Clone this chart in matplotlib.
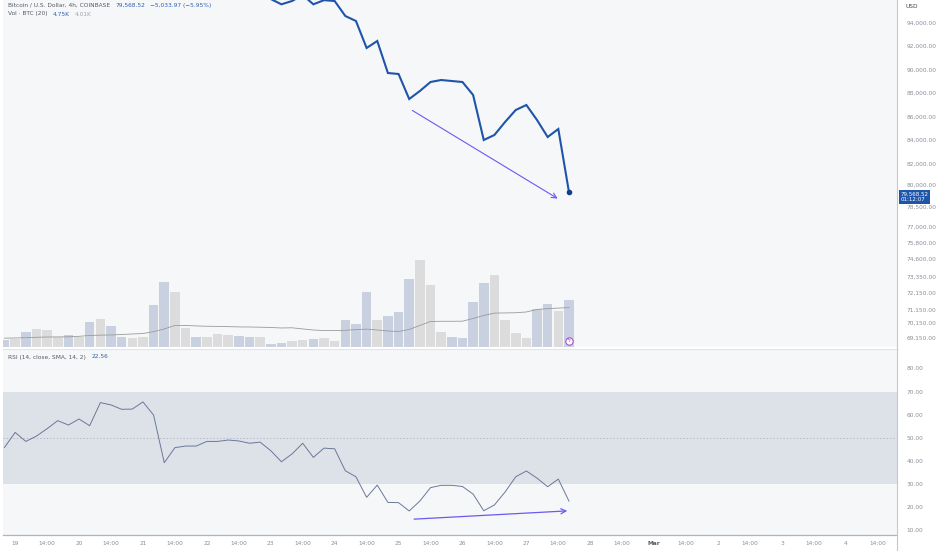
import matplotlib.pyplot as plt
from matplotlib.lines import Line2D
from matplotlib.transforms import blended_transform_factory

plt.rcParams['font.family'] = ['DejaVu Sans']

# 4h candles, bar 0 = 18 Feb 20:00 ... bar 53 = last (27 Feb 16:00)
price_first_bar = 24
close = [96700, 96000, 95549, 95830, 96340, 95549, 95900, 95830, 94553, 94128,
         91830, 92426, 89702, 89617, 87489, 88170, 88936, 89106, 89020, 88936,
         87830, 84000, 84426, 85532, 86553, 86979, 85702, 84255, 84936, 79568.52]

volume_k = [0.62, 0.80, 1.45, 1.83, 1.65, 1.03, 1.14, 0.96, 2.51, 2.82,
            2.07, 0.96, 0.90, 1.03, 4.24, 6.61, 5.58, 1.89, 0.96, 1.03,
            1.24, 1.14, 1.06, 1.03, 1.03, 0.21, 0.41, 0.55, 0.62, 0.75,
            0.86, 0.55, 2.76, 2.27, 5.61, 2.69, 3.13, 3.54, 6.92, 8.96,
            6.37, 1.45, 0.96, 0.83, 4.55, 6.58, 7.41, 2.69, 1.37, 0.90,
            3.89, 4.41, 3.65, 4.75]
down_bar = [1, 0, 1, 0, 0, 0, 1, 0, 1, 0, 1, 1, 0, 0, 1, 1, 0, 0, 1, 0,
            0, 0, 1, 1, 0, 1, 1, 0, 0, 1, 0, 0, 1, 1, 1, 0, 1, 1, 1, 0,
            0, 0, 1, 1, 1, 1, 0, 0, 0, 0, 1, 1, 0, 1]
volume_ma_k = [0.86, 0.88, 0.91, 0.95, 0.98, 0.99, 1.00, 1.05, 1.14, 1.17,
               1.19, 1.24, 1.29, 1.34, 1.53, 1.81, 2.17, 2.17, 2.12, 2.09,
               2.07, 2.05, 2.02, 2.01, 1.99, 1.96, 1.91, 1.93, 1.81, 1.70,
               1.65, 1.65, 1.67, 1.74, 1.79, 1.70, 1.60, 1.55, 1.76, 2.17,
               2.58, 2.60, 2.60, 2.61, 2.89, 3.20, 3.44, 3.46, 3.48, 3.56,
               3.82, 3.90, 3.96, 4.01]

rsi = [45.8, 52.3, 48.4, 50.7, 53.9, 57.4, 55.5, 58.1, 55.2, 65.2,
       64.2, 62.3, 62.4, 65.5, 59.8, 39.2, 45.7, 46.4, 46.4, 48.4,
       48.4, 49.0, 48.6, 47.6, 48.1, 44.4, 39.6, 43.0, 47.6, 41.5,
       45.5, 45.2, 35.7, 33.1, 24.2, 29.5, 22.0, 21.9, 18.3, 22.6,
       28.4, 29.4, 29.4, 28.9, 25.6, 18.4, 20.9, 26.5, 33.1, 35.6,
       32.5, 28.8, 32.1, 22.56]

# drawn trend arrows (bar index, value)
price_arrow_start = (38.07, 86638)
price_arrow_end = (52.16, 78894)
rsi_arrow_start = (38.2, 14.7)
rsi_arrow_end = (53.1, 18.4)

day_labels = ['19', '20', '21', '22', '23', '24', '25', '26', '27', '28', 'Mar', '2', '3', '4']
price_labels = ['94,000.00', '92,000.00', '90,000.00', '88,000.00', '86,000.00', '84,000.00',
                '82,000.00', '80,000.00', '78,500.00', '77,000.00', '75,800.00', '74,600.00',
                '73,350.00', '72,150.00', '71,150.00', '70,150.00', '69,150.00']
price_label_pos = [94000, 92000, 90000, 88000, 86000, 84000, 82000, 80150,
                   78298, 76596, 75234, 73872, 72340, 70979, 69532, 68426, 67149]
rsi_ticks = [80, 70, 60, 50, 40, 30, 20, 10]

BG = '#f6f7f9'
TXT = '#8a8f99'
BLUE = '#1f55a8'
ARROW = '#6a5af0'
FS = 4.2

fig = plt.figure(figsize=(9.38, 5.51), dpi=100, facecolor='white')
W = 897 / 938
top_rect = [3 / 938, 1 - 347 / 551, W - 3 / 938, 347 / 551]
ax_vol = fig.add_axes(top_rect)
ax_price = fig.add_axes(top_rect, sharex=ax_vol)
ax_rsi = fig.add_axes([3 / 938, 1 - 535 / 551, W - 3 / 938, 186 / 551], sharex=ax_vol)

bars = list(range(len(volume_k)))
ax_vol.set_facecolor(BG)
ax_vol.bar(bars, volume_k, width=0.9,
           color=['#c9d1e1' if d else '#dcdcdc' for d in down_bar])
ax_vol.plot(bars, volume_ma_k, color='#9a9a9a', lw=0.6)
ax_vol.scatter([bars[-1]], [0.6], s=28, facecolor='white', edgecolor='#b04fd0', lw=0.8, zorder=5)
ax_vol.text(bars[-1], 0.6, 'ϟ', color='#7c4fe0', fontsize=4.5, ha='center', va='center', zorder=6)
ax_vol.set_ylim(-0.05, 35.7)
ax_vol.set_xlim(-0.14, 83.8)
ax_vol.set_yticks([])
ax_vol.tick_params(axis='x', length=0, labelbottom=False)
for s in ax_vol.spines.values():
    s.set_visible(False)

price_x = list(range(price_first_bar, price_first_bar + len(close)))
ax_price.patch.set_visible(False)
ax_price.plot(price_x, close, color=BLUE, lw=1.5, solid_joinstyle='miter')
ax_price.plot([price_x[-1]], [close[-1]], 'o', color='#123f8a', ms=3)
ax_price.annotate('', xy=price_arrow_end, xytext=price_arrow_start,
                  arrowprops=dict(arrowstyle='->', color=ARROW, lw=0.8, mutation_scale=9))
ax_price.set_ylim(66383, 95915)
ax_price.yaxis.tick_right()
ax_price.set_yticks(price_label_pos)
ax_price.set_yticklabels(price_labels)
ax_price.tick_params(axis='y', length=0, pad=7, labelsize=FS, labelcolor=TXT)
ax_price.tick_params(axis='x', length=0, labelbottom=False)
for s in ax_price.spines.values():
    s.set_visible(False)

tr = blended_transform_factory(ax_price.transAxes, ax_price.transData)
ax_price.annotate('79,568.52\n01:12:07', xy=(1.0, close[-1]), xycoords=tr,
                  xytext=(2.5, -3.5), textcoords='offset points', ha='left', va='center',
                  color='white', fontsize=4.0, linespacing=1.05, annotation_clip=False, zorder=10,
                  bbox=dict(boxstyle='square,pad=0.3', fc=BLUE, ec='none'))

# RSI pane
ax_rsi.set_facecolor(BG)
ax_rsi.axhspan(30, 70, color='#dde2e9', lw=0)
ax_rsi.axhline(50, color='#aab0bc', lw=0.6, ls=(0, (1.5, 2.5)))
ax_rsi.plot(bars, rsi, color='#6a7898', lw=0.7)
ax_rsi.annotate('', xy=rsi_arrow_end, xytext=rsi_arrow_start,
                arrowprops=dict(arrowstyle='->', color=ARROW, lw=0.9, mutation_scale=9))
ax_rsi.set_ylim(7.9, 88.4)
ax_rsi.yaxis.tick_right()
ax_rsi.set_yticks(rsi_ticks)
ax_rsi.set_yticklabels([f'{v:.2f}' for v in rsi_ticks])
ax_rsi.tick_params(axis='y', length=0, pad=7, labelsize=FS, labelcolor=TXT)

tick_pos, tick_lab = [], []
for k, d in enumerate(day_labels):
    tick_pos += [1 + 6 * k, 4 + 6 * k]
    tick_lab += [d, '14:00']
ax_rsi.set_xticks(tick_pos)
ax_rsi.set_xticklabels(tick_lab)
ax_rsi.tick_params(axis='x', length=0, pad=4, labelsize=FS, labelcolor=TXT)
for lab in ax_rsi.get_xticklabels():
    if lab.get_text() == 'Mar':
        lab.set_fontweight('bold')
        lab.set_color('#555a66')
for name, s in ax_rsi.spines.items():
    if name == 'bottom':
        s.set_color('#b0b3ba')
        s.set_linewidth(0.9)
    elif name == 'top':
        s.set_color('#e2e4ea')
        s.set_linewidth(0.8)
    else:
        s.set_visible(False)

fig.add_artist(Line2D([W, W], [0, 1], transform=fig.transFigure, color='#c4c7cd', lw=0.8))


# legends in the top left corners
def header(ax, y, parts):
    prev = None
    for text, color in parts:
        if prev is None:
            prev = ax.text(0.006, y, text, transform=ax.transAxes, color=color,
                           fontsize=FS, va='center', ha='left', zorder=12)
        else:
            prev = ax.annotate(text, xy=(1, 0), xycoords=prev, xytext=(3.5, 0),
                               textcoords='offset points', color=color, fontsize=FS,
                               va='bottom', ha='left', zorder=12)


header(ax_price, 1 - 5 / 347, [('Bitcoin / U.S. Dollar, 4h, COINBASE', '#555a66'),
                               ('79,568.52', '#2f5fb0'), ('−5,033.97 (−5.95%)', '#2f5fb0')])
header(ax_price, 1 - 14 / 347, [('Vol · BTC (20)', '#555a66'), ('4.75K', '#2f5fb0'),
                                ('4.01K', '#a0a4ad')])
header(ax_rsi, 1 - 8 / 186, [('RSI (14, close, SMA, 14, 2)', '#555a66'), ('22.56', '#2f5fb0')])

fig.text(905 / 938, 1 - 6 / 551, 'USD', fontsize=FS, color='#444', va='center', ha='left')

plt.savefig('out.png', dpi=100, facecolor='white')
